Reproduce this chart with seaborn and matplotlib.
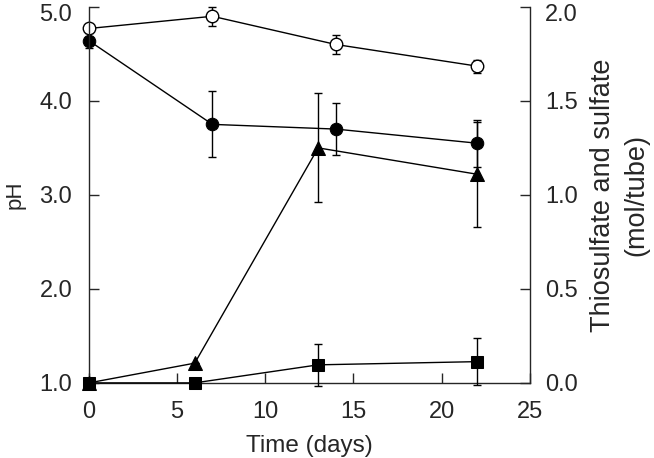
import matplotlib.pyplot as plt
import matplotlib.transforms as mtransforms
import seaborn as sns
import numpy as np
import pandas as pd

sns.set_style("ticks")
plt.rcParams['font.family'] = ['Liberation Sans', 'DejaVu Sans']
plt.rcParams['font.size'] = 17

# pH series (left axis)
days_ph = [0, 7, 14, 22]
ph_open = [4.77, 4.90, 4.60, 4.37]
ph_open_err = [0.0, 0.10, 0.10, 0.07]
ph_filled = [4.64, 3.75, 3.70, 3.55]
ph_filled_err = [0.08, 0.35, 0.28, 0.25]

# thiosulfate / sulfate series (right axis)
days_s = [0, 6, 13, 22]
triangle = [0.0, 0.105, 1.25, 1.11]
triangle_err = [0.0, 0.0, 0.29, 0.28]
square = [0.0, 0.0, 0.096, 0.113]
square_err = [0.0, 0.0, 0.11, 0.125]

df_ph = pd.DataFrame({'day': days_ph, 'open': ph_open, 'filled': ph_filled})
df_s = pd.DataFrame({'day': days_s, 'tri': triangle, 'sq': square})

fig = plt.figure(figsize=(6.54, 4.58), dpi=100)
ax = fig.add_axes([0.136, 0.164, 0.674, 0.821])
ax2 = ax.twinx()

line_kw = dict(color='black', linewidth=1.0, clip_on=False)
err_kw = dict(fmt='none', ecolor='black', elinewidth=1.0, capsize=3, capthick=1.0, clip_on=False)

# error bars first
ax.errorbar(days_ph, ph_open, yerr=ph_open_err, **err_kw)
ax.errorbar(days_ph, ph_filled, yerr=ph_filled_err, **err_kw)
ax2.errorbar(days_s, triangle, yerr=triangle_err, **err_kw)
ax2.errorbar(days_s, square, yerr=square_err, **err_kw)

sns.lineplot(data=df_ph, x='day', y='filled', ax=ax, marker='o', markersize=9,
             markerfacecolor='black', markeredgecolor='black', **line_kw)
sns.lineplot(data=df_ph, x='day', y='open', ax=ax, marker='o', markersize=9,
             markerfacecolor='white', markeredgecolor='black', markeredgewidth=1.0, **line_kw)
sns.lineplot(data=df_s, x='day', y='tri', ax=ax2, marker='^', markersize=9.5,
             markerfacecolor='black', markeredgecolor='black', **line_kw)
sns.lineplot(data=df_s, x='day', y='sq', ax=ax2, marker='s', markersize=9,
             markerfacecolor='black', markeredgecolor='black', **line_kw)

ax.set_xlim(0, 25)
ax.set_ylim(1.0, 5.0)
ax2.set_ylim(0.0, 2.0)
ax.set_xticks([0, 5, 10, 15, 20, 25])
ax.set_yticks([1.0, 2.0, 3.0, 4.0, 5.0])
ax.set_yticklabels(['1.0', '2.0', '3.0', '4.0', '5.0'])
ax2.set_yticks([0.0, 0.5, 1.0, 1.5, 2.0])
ax2.set_yticklabels(['0.0', '0.5', '1.0', '1.5', '2.0'])

ax.set_xlabel('Time (days)', fontsize=17.5)
ax.set_ylabel('pH', fontsize=16)
ax2.set_ylabel('Thiosulfate and sulfate\n(mol/tube)', fontsize=19.5, linespacing=1.37)
ax.xaxis.set_label_coords(0.5, -0.138)
ax.yaxis.set_label_coords(-0.144, 0.5)
ax2.yaxis.set_label_coords(1.136, 0.5)

for a in (ax, ax2):
    a.spines['top'].set_visible(False)
    for s in a.spines.values():
        s.set_linewidth(1.0)
    a.tick_params(direction='in', length=7, width=1.0, labelsize=17)
ax.tick_params(axis='x', pad=13)
ax.tick_params(axis='y', pad=12)
ax2.tick_params(axis='y', pad=11)
ax.spines['right'].set_visible(False)
ax2.spines['left'].set_visible(False)
ax2.spines['bottom'].set_visible(False)
ax.grid(False)
ax2.grid(False)

# top tick labels sit a little below their tick in the original
shift = mtransforms.ScaledTranslation(0, -6 / 100, fig.dpi_scale_trans)
for a in (ax, ax2):
    top_tick = a.yaxis.get_major_ticks()[-1]
    for lab in (top_tick.label1, top_tick.label2):
        lab.set_transform(lab.get_transform() + shift)

fig.savefig('out.png', dpi=100)
